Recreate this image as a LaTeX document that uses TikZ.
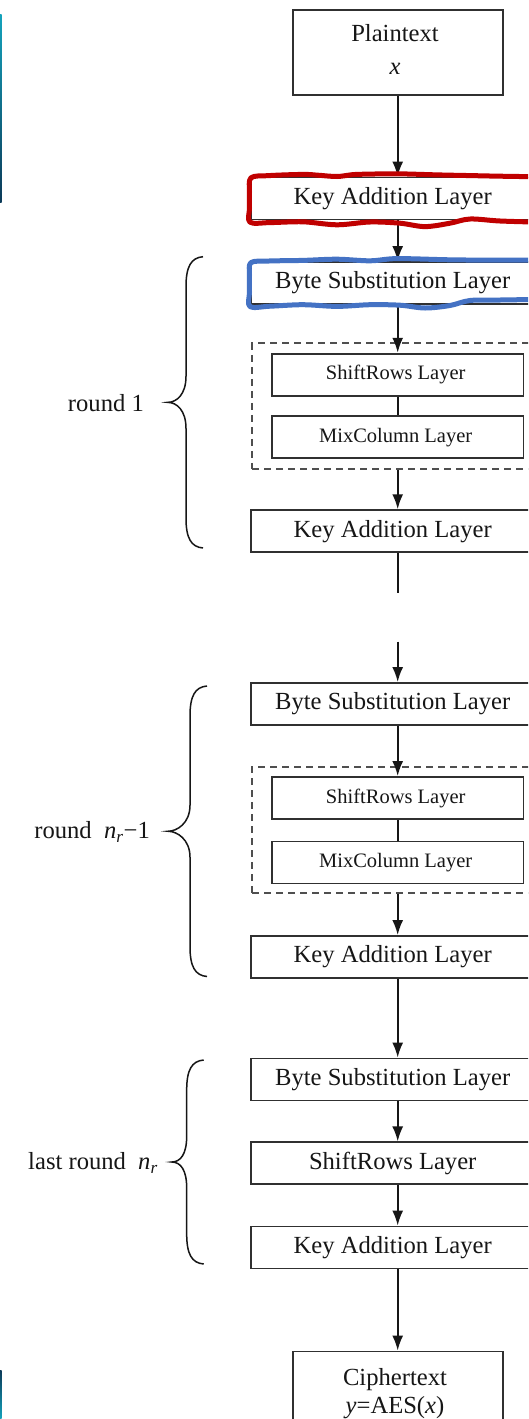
\documentclass[tikz,border=0pt]{standalone}
\usepackage{fontspec}
\setmainfont{Liberation Serif}
\usetikzlibrary{arrows.meta}

\definecolor{ink}{HTML}{161616}
\definecolor{frame}{HTML}{303030}
\definecolor{markred}{HTML}{C00000}
\definecolor{markblue}{HTML}{4472C4}
\definecolor{edgedark}{HTML}{0C3A58}
\definecolor{edgelight}{HTML}{14A3BC}

\newcommand\bigfont{\fontsize{24.6}{29.5}\selectfont}
\newcommand\smallfont{\fontsize{20.5}{24.6}\selectfont}
\newcommand\nr{\textit{n}\textsubscript{\textit{r}}}

% curly brace: #1 right x, #2 tip x, #3 top y, #4 bottom y
\newcommand\layerbrace[4]{%
  \draw[bracestyle] (#1,#3)
    .. controls ({#1-12},{#3+1}) and ({#1-17},{#3+10}) .. ({#1-17},{#3+30})
    -- ({#1-17},{(#3+#4)/2-26})
    .. controls ({#1-17},{(#3+#4)/2-8}) and ({#2+9},{(#3+#4)/2}) .. (#2,{(#3+#4)/2})
    .. controls ({#2+9},{(#3+#4)/2}) and ({#1-17},{(#3+#4)/2+8}) .. ({#1-17},{(#3+#4)/2+26})
    -- ({#1-17},{#4-30})
    .. controls ({#1-17},{#4-10}) and ({#1-12},{#4-1}) .. (#1,#4);}

\begin{document}
\begin{tikzpicture}[x=1pt,y=-1pt,
  layer/.style={draw=frame, line width=1.9pt, rectangle, inner sep=0pt,
    minimum width=293.4pt, minimum height=42pt, text=ink, font=\bigfont},
  sublayer/.style={draw=frame, line width=1.9pt, rectangle, inner sep=0pt,
    minimum width=251.5pt, minimum height=42pt, text=ink, font=\smallfont},
  termbox/.style={draw=frame, line width=1.9pt, rectangle, inner sep=0pt,
    minimum width=210pt, minimum height=85pt},
  group/.style={draw=frame!85, line width=1.7pt, dash pattern=on 7pt off 5pt,
    rectangle, inner sep=0pt, minimum width=291.4pt},
  txt/.style={inner sep=0pt, text=ink, font=\bigfont},
  flow/.style={draw=ink, line width=1.9pt, -{Latex[length=15pt,width=11pt]}},
  link/.style={draw=ink, line width=1.9pt},
  bracestyle/.style={draw=ink, line width=1.5pt},
  markline/.style={line width=5pt, line join=round, line cap=round}]

\useasboundingbox (0,0) rectangle (528,1419);
\clip (0,0) rectangle (528,1419);
\fill[white] (0,0) rectangle (528,1419);

% thin screen-edge strips
\shade[top color=edgelight, bottom color=edgedark] (0,14) rectangle (1.6,202);
\shade[top color=edgedark, bottom color=edgelight] (0,1370) rectangle (1.6,1419);

% input
\node[termbox] (plain) at (397.7,52.85) {};
\node[txt, anchor=base] (plaintxt) at (395,41) {Plaintext};
\node[txt, anchor=base] (plainx) at (395,74.7) {\textit{x}};

\node[layer] (ka0) at (397.7,198.5) {\hspace*{-10pt}Key Addition Layer};

% round 1
\node[layer] (bs1) at (397.7,283) {\hspace*{-10pt}Byte Substitution Layer};
\node[group, minimum height=125.7pt] (dash1) at (397.7,406.15) {};
\node[sublayer] (sr1) at (397.7,374.7) {\hspace*{-4pt}ShiftRows Layer};
\node[sublayer] (mc1) at (397.7,437.2) {\hspace*{-4pt}MixColumn Layer};
\node[layer] (ka1) at (397.7,531.2) {\hspace*{-10pt}Key Addition Layer};
\coordinate (gap1) at (397.7,593.3);
\coordinate (gap2) at (397.7,641.7);

% round n_r - 1
\node[layer] (bs2) at (397.7,704) {\hspace*{-10pt}Byte Substitution Layer};
\node[group, minimum height=126pt] (dash2) at (397.7,830) {};
\node[sublayer] (sr2) at (397.7,798) {\hspace*{-4pt}ShiftRows Layer};
\node[sublayer] (mc2) at (397.7,862.5) {\hspace*{-4pt}MixColumn Layer};
\node[layer] (ka2) at (397.7,957) {\hspace*{-10pt}Key Addition Layer};

% last round
\node[layer] (bs3) at (397.7,1079.5) {\hspace*{-10pt}Byte Substitution Layer};
\node[layer] (sr3) at (397.7,1163.4) {\hspace*{-10pt}ShiftRows Layer};
\node[layer] (ka3) at (397.7,1247.5) {\hspace*{-10pt}Key Addition Layer};

% output
\node[termbox] (ciph) at (397.7,1394) {};
\node[txt, anchor=base] (ciphtxt) at (395,1385) {Ciphertext};
\node[txt, anchor=base] (ciphy) at (395,1413) {\textit{y}=AES(\textit{x})};

% data flow
\draw[flow] (plain) -- (ka0);
\draw[flow] (ka0) -- (bs1);
\draw[flow] (bs1) -- (sr1);
\draw[link] (sr1) -- (mc1);
\draw[flow] (dash1.south) -- (ka1);
\draw[link] (ka1) -- (gap1);
\draw[flow] (gap2) -- (bs2);
\draw[flow] (bs2) -- (sr2);
\draw[link] (sr2) -- (mc2);
\draw[flow] (dash2.south) -- (ka2);
\draw[flow] (ka2) -- (bs3);
\draw[flow] (bs3) -- (sr3);
\draw[flow] (sr3) -- (ka3);
\draw[flow] (ka3) -- (ciph);

% round braces and labels
\layerbrace{203}{167.7}{256.7}{548}
\layerbrace{207}{168}{686}{976.5}
\layerbrace{203.7}{171.7}{1060}{1264}
\node[txt, anchor=base east] (lbl1) at (144,411.7) {round 1};
\node[txt, anchor=base east] (lbl2) at (150,838.5) {round\ \ \nr−1};
\node[txt, anchor=base east] (lbl3) at (158,1169.6) {last round\ \ \nr};

% hand-drawn highlight marks
\draw[markline, markred] plot[smooth, tension=0.55] coordinates {
  (540,176.8) (500,176.2) (471,175.6) (438,174.9) (397,173.8) (365,174.2)
  (353,174.6) (337,176.5) (318,175.2) (303,174.4) (269,175.6) (251,177.8)
  (249.5,192) (249.5,208) (250,222.2) (270,222.6) (303,221.8) (337,224.8)
  (370,222) (400,223.2) (425,226.6) (450,223.2) (470,219) (500,221) (540,222.2)};
\draw[markline, markblue] plot[smooth, tension=0.55] coordinates {
  (540,260) (500,260.2) (450,259.8) (397,258.6) (370,260.8) (337,259.2)
  (303,260.4) (269,261) (251,262.6)
  (249.5,275) (249.5,292) (250,306.6) (270,306.2) (303,304.7) (337,306.4)
  (370,304.7) (400,305.2) (425,308) (450,305.5) (470,300.5) (500,300) (540,299.4)};
\end{tikzpicture}
\end{document}
